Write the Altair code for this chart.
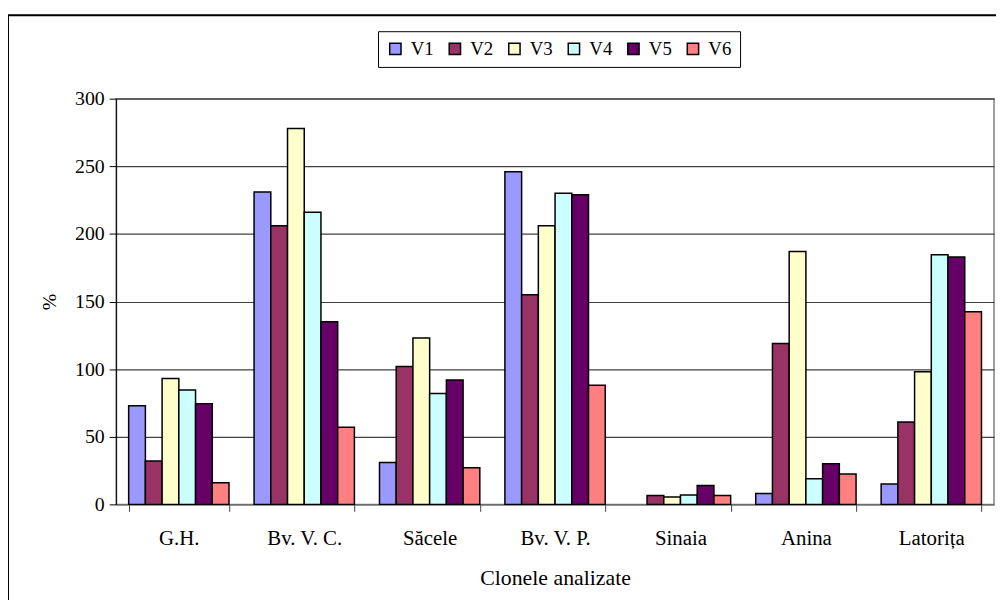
import altair as alt
import pandas as pd

clones = ["G.H.", "Bv. V. C.", "Săcele", "Bv. V. P.", "Sinaia", "Anina", "Latorița"]
series = ["V1", "V2", "V3", "V4", "V5", "V6"]
colors = ["#9999FF", "#993366", "#FFFFCC", "#CCFFFF", "#660066", "#FF8080"]

v1 = [73, 231, 31, 246, 0, 8, 15]
v2 = [32, 206, 102, 155, 6.5, 119, 61]
v3 = [93, 278, 123, 206, 5.5, 187, 98]
v4 = [84.5, 216, 82, 230, 7, 19, 184.5]
v5 = [74.5, 135, 92, 229, 14, 30, 183]
v6 = [16, 57, 27, 88, 6.5, 22.5, 142.5]

rows = []
for s, vals in zip(series, [v1, v2, v3, v4, v5, v6]):
    for c, v in zip(clones, vals):
        rows.append({"clona": c, "serie": s, "val": v})
df = pd.DataFrame(rows)

FONT = "Liberation Serif"

bars = alt.Chart(df).transform_filter("datum.val > 0").mark_bar(stroke="black", strokeWidth=1.5).encode(
    x=alt.X("clona:N", sort=clones, title="Clonele analizate",
            scale=alt.Scale(paddingInner=0.2, paddingOuter=0.1),
            axis=alt.Axis(labelAngle=0, tickBand="extent", labelPadding=16,
                          titlePadding=20, domainColor="#808080", tickColor="#404040",
                          tickSize=7, grid=False, labelFontSize=21, titleFontSize=22)),
    xOffset=alt.XOffset("serie:N", sort=series, scale=alt.Scale(domain=series)),
    y=alt.Y("val:Q", title="%", scale=alt.Scale(domain=[0, 300], nice=False),
            axis=alt.Axis(values=[0, 50, 100, 150, 200, 250, 300], tickSize=7,
                          labelPadding=5, titlePadding=15, titleAngle=-90,
                          domainColor="black", tickColor="black",
                          gridColor="#404040", gridWidth=1.2,
                          labelFontSize=20, titleFontSize=20)),
    color=alt.Color("serie:N", sort=series,
                    scale=alt.Scale(domain=series, range=colors),
                    legend=alt.Legend(title=None, orient="none", legendX=264, legendY=-68,
                                      direction="horizontal", columns=6,
                                      symbolType="square", symbolSize=130,
                                      symbolStrokeColor="black", symbolStrokeWidth=1.5,
                                      symbolOpacity=1,
                                      labelFontSize=19, labelFont=FONT, labelColor="black",
                                      labelOffset=6, columnPadding=11,
                                      padding=8, strokeColor="black",
                                      fillColor="white")),
)

frame = alt.Chart(pd.DataFrame({"a": [0]})).mark_rect(
    fill=None, stroke="black", strokeWidth=2
).encode(x=alt.value(-109), x2=alt.value(900), y=alt.value(-84), y2=alt.value(560))

chart = alt.layer(frame, bars).properties(
    width=885, height=409,
    autosize=alt.AutoSizeParams(type="none"),
    padding={"left": 109, "top": 89, "right": 2, "bottom": 94},
).configure_view(stroke="#808080", strokeWidth=1.5).configure_axis(
    labelFont=FONT, titleFont=FONT,
    labelColor="black", titleColor="black", titleFontWeight="normal",
).configure_text(font=FONT)

chart.save("out.html", embed_options={"renderer": "svg", "actions": False})
